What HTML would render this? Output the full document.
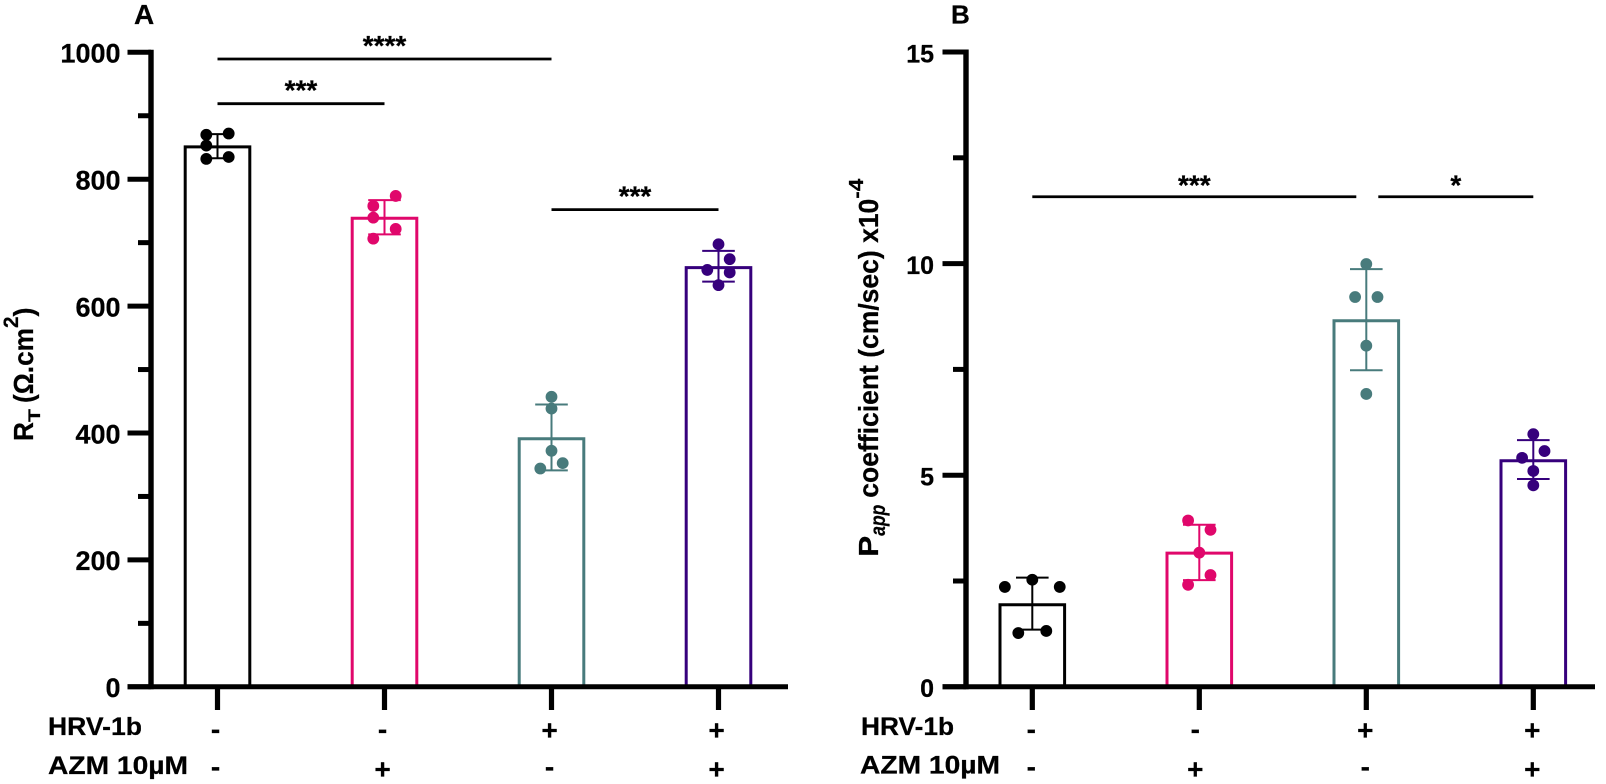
<!DOCTYPE html>
<html lang="en">
<head>
<meta charset="utf-8">
<title>RT and Papp coefficient bar charts</title>
<style>
html,body{margin:0;padding:0;background:#fff;}
svg{display:block;font-family:"Liberation Sans","DejaVu Sans",sans-serif;font-weight:bold;}
text{stroke:#000;stroke-width:.25px;}
</style>
</head>
<body>
<svg id="figure" xmlns="http://www.w3.org/2000/svg" width="1606" height="784" viewBox="0 0 1606 784">
  <rect width="1606" height="784" fill="#fff"/>
  <text x="134" y="24" font-size="28">A</text>
  <text x="951" y="23.5" font-size="26">B</text>

  <text transform="translate(33,441) rotate(-90)" font-size="28"><tspan textLength="19" lengthAdjust="spacingAndGlyphs">R</tspan><tspan font-size="17" dy="7" textLength="13" lengthAdjust="spacingAndGlyphs">T</tspan><tspan dy="-7" dx="6" textLength="75" lengthAdjust="spacingAndGlyphs">(Ω.cm</tspan><tspan font-size="21" dy="-15" textLength="11.5" lengthAdjust="spacingAndGlyphs">2</tspan><tspan dy="15" textLength="9" lengthAdjust="spacingAndGlyphs">)</tspan></text>

  <text transform="translate(878,556.7) rotate(-90)" font-size="28"><tspan textLength="21" lengthAdjust="spacingAndGlyphs">P</tspan><tspan font-size="21" font-style="italic" dy="7" textLength="31" lengthAdjust="spacingAndGlyphs">app</tspan><tspan dy="-7" dx="7" textLength="299" lengthAdjust="spacingAndGlyphs">coefficient (cm/sec) x10</tspan><tspan font-size="20" dy="-15" textLength="20" lengthAdjust="spacingAndGlyphs">-4</tspan></text>

  <text x="48" y="735" font-size="25" textLength="94" lengthAdjust="spacingAndGlyphs">HRV-1b</text>
  <text x="48" y="774" font-size="25" textLength="140" lengthAdjust="spacingAndGlyphs">AZM 10µM</text>
  <text x="861" y="735" font-size="25" textLength="93" lengthAdjust="spacingAndGlyphs">HRV-1b</text>
  <text x="860" y="773.5" font-size="25" textLength="140" lengthAdjust="spacingAndGlyphs">AZM 10µM</text>
</svg>
<script>
const groupColors = ['#000000', '#e0076b', '#487b7c', '#36007c'];
const hrvSigns = ['-', '-', '+', '+'];
const azmSigns = ['-', '+', '-', '+'];

const yTicksA = [0, 200, 400, 600, 800, 1000];
const yTickLabelsA = ['0', '200', '400', '600', '800', '1000'];
const yMinorTicksA = [100, 300, 500, 700, 900];
const barMeansA = [851, 738.5, 391, 660.6];
const errHighA = [871, 767, 445, 687];
const errLowA = [833, 713, 341, 638.6];
const pointsA = [
  [870, 872, 853, 832, 835],
  [773.6, 757.8, 739.4, 721.6, 706.3],
  [457, 438.5, 372, 344, 352.5],
  [697.5, 674, 657, 653, 633]
];
const swarmSlotsA = [
  [-1, 1, -1, -1, 1],
  [1, -1, -1, 1, -1],
  [0, 0, 0, -1, 1],
  [0, 1, -1, 1, 0]
];

const yTicksB = [0, 5, 10, 15];
const yTickLabelsB = ['0', '5', '10', '15'];
const yMinorTicksB = [2.5, 7.5, 12.5];
const barMeansB = [1.94, 3.16, 8.65, 5.34];
const errHighB = [2.58, 3.83, 9.87, 5.83];
const errLowB = [1.35, 2.52, 7.48, 4.91];
const pointsB = [
  [2.53, 2.36, 2.36, 1.27, 1.32],
  [3.93, 3.71, 3.17, 2.64, 2.41],
  [9.99, 9.21, 9.21, 8.06, 6.92],
  [5.97, 5.57, 5.41, 5.10, 4.76]
];
const swarmSlotsB = [
  [0, -2.45, 2.45, -1.25, 1.25],
  [-1, 1, 0, 1, -1],
  [0, -1, 1, 0, 0],
  [0, 1, -1, 0, 0]
];

const sigGroupsA = [[0, 2], [0, 1], [2, 3]];
const sigLabelsA = ['****', '***', '***'];
const sigLevelsA = [989.4, 919, 752];
const sigGroupsB = [[0, 2], [2, 3]];
const sigLabelsB = ['***', '*'];
const sigLevelsB = [11.58, 11.58];

const SVG_NS = 'http://www.w3.org/2000/svg';
const svg = document.getElementById('figure');

function make(tag, attrs, parent) {
  const el = document.createElementNS(SVG_NS, tag);
  for (const k in attrs) el.setAttribute(k, attrs[k]);
  (parent || svg).appendChild(el);
  return el;
}

function drawPanel(p) {
  const yPos = v => p.yZero - (v / p.yMax) * (p.yZero - p.yTop);
  const xPos = i => p.xFirst + i * p.xStep;
  const barW = 64.6, capHalf = 16.3, slot = 11.2;

  const g = make('g', {});
  
  

  // bars, error bars, points
  p.means.forEach((m, i) => {
    const c = groupColors[i], cx = xPos(i);
    const bar = make('path', {
      d: `M${cx - barW / 2} ${p.yZero}V${yPos(m)}H${cx + barW / 2}V${p.yZero}`,
      fill: 'none', stroke: c, 'stroke-width': 3, 'stroke-linejoin': 'miter'
    }, g);
    
    

    const err = make('path', {
      d: `M${cx - capHalf} ${yPos(p.high[i])}H${cx + capHalf}M${cx} ${yPos(p.high[i])}V${yPos(p.low[i])}M${cx - capHalf} ${yPos(p.low[i])}H${cx + capHalf}`,
      fill: 'none', stroke: c, 'stroke-width': 2
    }, g);
    
    

    p.points[i].forEach((v, j) => {
      const dot = make('circle', { cx: cx + p.slots[i][j] * slot, cy: yPos(v), r: 5.9, fill: c }, g);
      
      
    });
  });

  // axes
  const yAxis = make('line', { x1: p.axisX, x2: p.axisX, y1: p.yTop - 2.5, y2: p.yZero + 2.5, stroke: '#000', 'stroke-width': 5.4 }, g);
  
  

  const xAxis = make('line', { x1: p.axisX - 23.5, x2: p.xAxisEnd, y1: p.yZero, y2: p.yZero, stroke: '#000', 'stroke-width': 5 }, g);
  
  

  p.ticks.forEach((v, i) => {
    const t = make('line', { x1: p.axisX - 23.5, x2: p.axisX, y1: yPos(v), y2: yPos(v), stroke: '#000', 'stroke-width': 5 }, g);
    
    
    const lab = make('text', { x: p.labelX, y: yPos(v) + 10.3, 'text-anchor': 'end', 'font-size': p.tickFont, fill: '#000' }, g);
    lab.textContent = p.tickLabels[i];
    
    
  });

  p.minor.forEach(v => {
    const t = make('line', { x1: p.axisX - 13, x2: p.axisX, y1: yPos(v), y2: yPos(v), stroke: '#000', 'stroke-width': 5 }, g);
    
    
  });

  // x ticks and +/- rows
  p.means.forEach((m, i) => {
    const cx = xPos(i);
    const t = make('line', { x1: cx, x2: cx, y1: p.yZero, y2: 710, stroke: '#000', 'stroke-width': 5.2 }, g);
    
    

    const hrv = make('text', { x: cx + p.signShift[i], y: hrvSigns[i] === '+' ? 739.5 : 738.5, 'text-anchor': 'middle', 'font-size': 28 }, g);
    hrv.textContent = hrvSigns[i];
    
    

    const azm = make('text', { x: cx + p.signShift[i], y: azmSigns[i] === '+' ? 778.5 : 776, 'text-anchor': 'middle', 'font-size': 28 }, g);
    azm.textContent = azmSigns[i];
    
    
  });

  // significance brackets
  p.sigGroups.forEach((pair, i) => {
    const x1 = xPos(pair[0]) + p.sigInset[i][0];
    const x2 = xPos(pair[1]) + p.sigInset[i][1];
    const y = yPos(p.sigLevels[i]);
    const l = make('line', { x1: x1, x2: x2, y1: y, y2: y, stroke: '#000', 'stroke-width': 2.8 }, g);
    
    
    const s = make('text', { x: (x1 + x2) / 2, y: y + p.sigTextLift, 'text-anchor': 'middle', 'font-size': 28 }, g);
    s.textContent = p.sigLabels[i];
    
    
  });
}

drawPanel({
  id: 'a', axisX: 151, xAxisEnd: 788, yZero: 686.8, yTop: 52.3, yMax: 1000,
  xFirst: 217.5, xStep: 167, labelX: 120.5, tickFont: 27, signShift: [-2, -2, -2, -2],
  ticks: yTicksA, tickLabels: yTickLabelsA, minor: yMinorTicksA,
  means: barMeansA, high: errHighA, low: errLowA, points: pointsA, slots: swarmSlotsA,
  sigGroups: sigGroupsA, sigLabels: sigLabelsA, sigLevels: sigLevelsA,
  sigInset: [[0, 0], [0, 0], [0, 0]], sigTextLift: -4
});

drawPanel({
  id: 'b', axisX: 966, xAxisEnd: 1595, yZero: 686.8, yTop: 52, yMax: 15,
  xFirst: 1032.3, xStep: 167, labelX: 934, tickFont: 25, signShift: [-1, -4, -1, -1],
  ticks: yTicksB, tickLabels: yTickLabelsB, minor: yMinorTicksB,
  means: barMeansB, high: errHighB, low: errLowB, points: pointsB, slots: swarmSlotsB,
  sigGroups: sigGroupsB, sigLabels: sigLabelsB, sigLevels: sigLevelsB,
  sigInset: [[0, -10], [12, 0]], sigTextLift: -2
});
</script>
</body>
</html>
